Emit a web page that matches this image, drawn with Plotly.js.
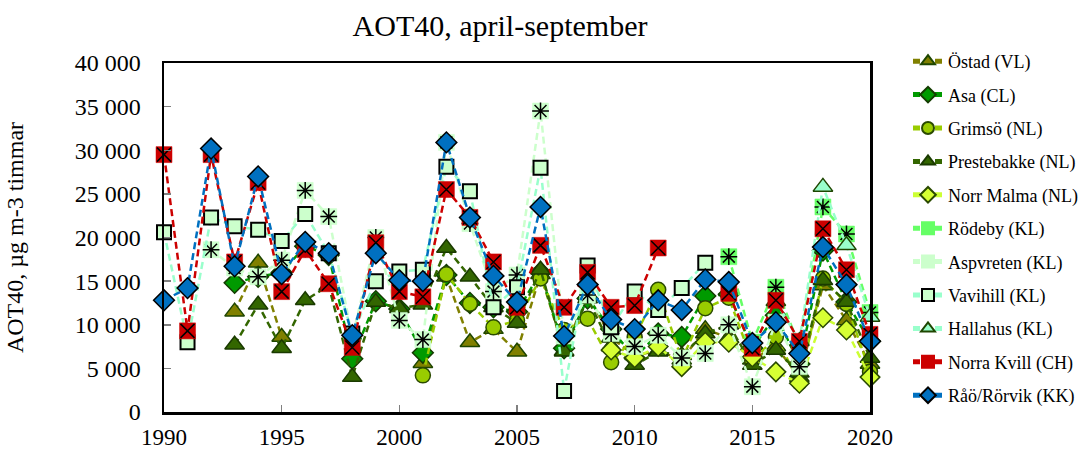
<!DOCTYPE html>
<html><head><meta charset="utf-8">
<script src="https://cdn.plot.ly/plotly-3.0.1.min.js"></script>
<style>html,body{margin:0;padding:0;background:#fff}#chart{width:1088px;height:452px}</style>
</head><body><div id="chart"></div>
<script>
const years = [1990,1991,1992,1993,1994,1995,1996,1997,1998,1999,2000,2001,2002,2003,2004,2005,2006,2007,2008,2009,2010,2011,2012,2013,2014,2015,2016,2017,2018,2019,2020];
const xTicks = [1990,1995,2000,2005,2010,2015,2020];
const seriesNames = ["Östad (VL)","Asa (CL)","Grimsö (NL)","Prestebakke (NL)","Norr Malma (NL)","Rödeby (KL)","Aspvreten (KL)","Vavihill (KL)","Hallahus (KL)","Norra Kvill (CH)","Råö/Rörvik (KK)"];

const ostad       = [null,null,null,11500,17100,8600,null,null,null,null,null,5600,15500,8000,9500,6900,15800,7000,13500,8500,6500,7000,6000,9500,8500,6000,7500,4000,14500,10500,5500];
const asa         = [null,null,null,14800,15500,16000,19000,18000,6100,12700,11800,6800,15700,12500,12000,11500,16000,7300,13000,9500,6200,9000,8600,13300,13500,7300,11100,5500,18500,12600,8100];
const grimso      = [null,null,null,null,null,null,null,null,null,null,null,4200,15800,12400,9700,10500,15300,9400,10700,5700,8600,14000,6000,11900,13100,5800,8600,3400,15300,12400,4600];
const prestebakke = [null,null,null,7700,12300,7300,12800,14500,4000,12600,11900,12300,18800,15500,12000,10200,16300,6900,13000,7500,5400,6900,6500,9000,10000,5400,7100,4500,15100,12600,6200];
const norrMalma   = [null,null,null,null,null,null,null,null,null,null,null,null,null,null,null,null,null,null,null,7100,6200,7500,5200,8000,8000,6300,4600,3300,10800,9400,4000];
const rodeby      = [null,null,null,null,null,null,null,null,null,null,null,null,null,null,null,null,null,null,null,null,null,null,null,null,17800,8000,14300,7600,23500,20400,11400];
const aspvreten   = [null,null,18600,16500,15500,17400,25400,22400,8500,20000,10500,8300,30900,21600,13800,15700,34500,8700,13400,9000,7500,8800,6200,6700,10000,2900,10300,5200,null,null,null];
const vavihill    = [20600,8000,22300,21300,20900,19600,22700,18200,9000,15000,16100,16300,28100,25300,12000,14300,28000,2400,16800,9700,13800,11700,14200,17100,null,null,null,null,null,null,null];
const hallahus    = [null,null,null,null,null,null,null,null,null,null,null,null,null,null,null,null,null,null,null,null,null,null,null,null,null,null,12700,8100,25800,19100,10900];
const norraKvill  = [29500,9300,29500,17200,26300,13800,18600,14700,7400,19400,13800,13200,25500,22300,17200,12000,19100,12000,16000,12000,12200,18800,null,null,13600,7300,12800,8100,21000,16300,8900];
const raoRorvik   = [12800,14200,30200,16700,27000,15800,19500,18200,8800,18200,15100,15000,30900,22300,15600,12600,23500,8700,14600,10600,9500,12800,11700,15200,14900,7900,10300,6700,18900,14600,8100];

const values = [ostad,asa,grimso,prestebakke,norrMalma,rodeby,aspvreten,vavihill,hallahus,norraKvill,raoRorvik];
const styles = [
  {line:'#808000', symbol:'triangle-up', fill:'#808000', border:'#1e4600', bw:1.5, size:17},
  {line:'#009a00', symbol:'diamond',     fill:'#009a00', border:'#143c00', bw:1.5, size:16},
  {line:'#99cc00', symbol:'circle',      fill:'#99cc00', border:'#2a4a00', bw:1.5, size:15},
  {line:'#336600', symbol:'triangle-up', fill:'#336600', border:'#1a3a00', bw:1.5, size:17},
  {line:'#ccff33', symbol:'diamond',     fill:'#d6ff33', border:'#2a4a00', bw:1.5, size:15},
  {line:'#66ff66', symbol:'square',      fill:'#66ff66', border:'#66ff66', bw:0.5, size:16, over:'asterisk-open'},
  {line:'#ccffcc', symbol:'square',      fill:'#ccffcc', border:'#ccffcc', bw:0.5, size:16, over:'asterisk-open'},
  {line:'#99ffcc', symbol:'square',      fill:'#ccffcc', border:'#000000', bw:2,   size:14},
  {line:'#99ffcc', symbol:'triangle-up', fill:'#99ffcc', border:'#1e4600', bw:1.5, size:17},
  {line:'#cc0000', symbol:'square',      fill:'#cc0000', border:'#cc0000', bw:0.5, size:16, over:'x-thin-open'},
  {line:'#0070c0', symbol:'diamond',     fill:'#0070c0', border:'#000000', bw:1.5, size:16}
];

const traces = [];
values.forEach((vals, i) => {
  const s = styles[i];
  traces.push({
    type:'scatter', mode:'lines+markers', name: seriesNames[i], x: years, y: vals,
    legendgroup: 'g'+i, cliponaxis:false, connectgaps:false,
    line:{color:s.line, width:2.5, dash:'7px,4px'},
    marker:{symbol:s.symbol, size:s.size, color:s.fill, line:{color:s.border, width:s.bw}}
  });
  if (s.over) {
    traces.push({
      type:'scatter', mode:'markers', x: years, y: vals, legendgroup:'g'+i, showlegend:false,
      cliponaxis:false, hoverinfo:'skip',
      marker:{symbol:s.over, size:s.size-2, color:'#000', line:{color:'#000', width:1.5}}
    });
  }
});

const FONT = '"Liberation Serif", "Times New Roman", serif';
const layout = {
  width:1088, height:452,
  margin:{l:164, r:218, t:63, b:40},
  paper_bgcolor:'#fff', plot_bgcolor:'#fff',
  font:{family:FONT, color:'#000', size:18},
  separators:'. ',
  title:{text:'AOT40, april-september', font:{family:FONT, size:30, color:'#000'}, x:500/1088, xref:'container', xanchor:'center', y:1-25/452, yref:'container', yanchor:'middle'},
  xaxis:{range:[1990,2020], tickvals:xTicks, ticks:'inside', ticklen:7, tickcolor:'#808080', tickwidth:1.5,
         showline:true, linecolor:'#000', linewidth:2.5, mirror:true, showgrid:false, zeroline:false,
         tickfont:{family:FONT, size:23, color:'#000'}, ticklabelstandoff:3},
  yaxis:{range:[0,40000], dtick:5000, tick0:0, tickformat:',d', ticks:'inside', ticklen:7, tickcolor:'#808080', tickwidth:1.5,
         showline:true, linecolor:'#000', linewidth:2.5, mirror:true, showgrid:false, zeroline:false,
         tickfont:{family:FONT, size:24, color:'#000'}, ticklabelstandoff:16,
         title:{text:'AOT40, µg m-3 timmar', font:{family:FONT, size:24, color:'#000'}, standoff:45}},
  legend:{xref:'container', yref:'container', x:908/1088, xanchor:'left', y:1-43/452, yanchor:'top',
          font:{family:FONT, size:18, color:'#000'}, tracegroupgap:7,
          traceorder:'grouped', itemsizing:'constant', bgcolor:'rgba(0,0,0,0)', maxheight:452},
  showlegend:true
};

Plotly.newPlot('chart', traces, layout, {staticPlot:true, displayModeBar:false});
</script>
</body></html>
